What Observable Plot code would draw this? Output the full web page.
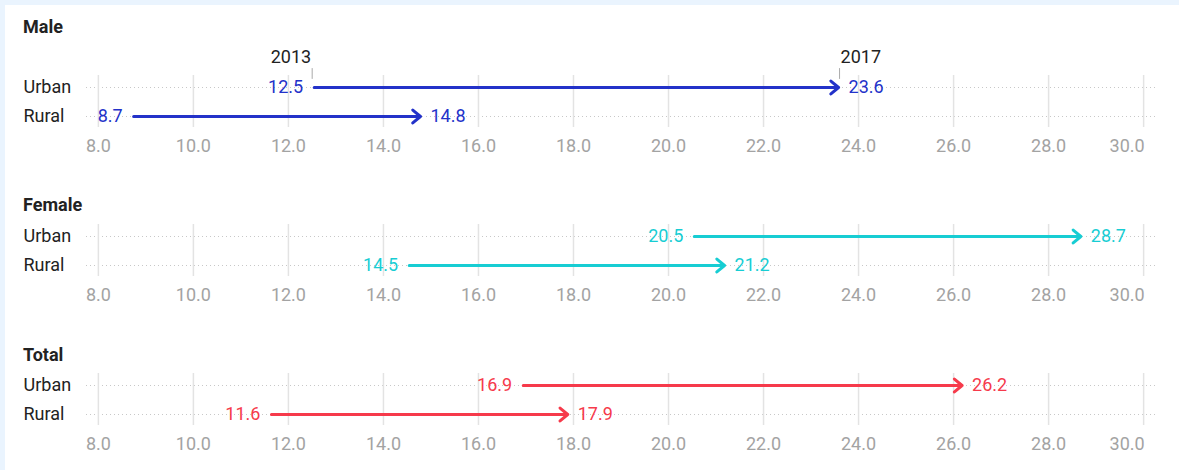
<!DOCTYPE html>
<html>
<head>
<meta charset="utf-8">
<script src="https://cdn.jsdelivr.net/npm/d3@7"></script>
<script src="https://cdn.jsdelivr.net/npm/@observablehq/plot@0.6"></script>
<style>
  html, body { margin: 0; padding: 0; background: #eaf4fe; width: 1179px; height: 470px; overflow: hidden; font-family: Roboto, sans-serif; }
  #card { position: absolute; left: 5px; top: 5px; right: 0; bottom: 0; background: #fff; }
  .title { position: absolute; left: 23px; font-weight: 700; font-size: 18px; line-height: 20px; color: #222; }
  .panel { position: absolute; left: 0; }
</style>
</head>
<body>
<div id="card"></div>
<div id="root"></div>
<script>
const groups = ["Male", "Female", "Total"];
const categories = ["Urban", "Rural"];
const male2013 = [12.5, 8.7];
const male2017 = [23.6, 14.8];
const female2013 = [20.5, 14.5];
const female2017 = [28.7, 21.2];
const total2013 = [16.9, 11.6];
const total2017 = [26.2, 17.9];
const yearLabels = ["2013", "2017"];
const xTicks = [8, 10, 12, 14, 16, 18, 20, 22, 24, 26, 28, 30];
const colors = { Male: "#2332c9", Female: "#17cdd3", Total: "#f63a4b" };

const series = {
  Male: [male2013, male2017],
  Female: [female2013, female2017],
  Total: [total2013, total2017]
};

const titleTops = [17, 195, 345];
const svgTops = [35, 184, 333];

const root = document.getElementById("root");

groups.forEach((g, gi) => {
  const [a, b] = series[g];
  const rows = categories.map((c, i) => ({ row: c, start: a[i], end: b[i] }));
  const color = colors[g];

  const t = document.createElement("div");
  t.className = "title";
  t.style.top = titleTops[gi] + "px";
  t.textContent = g;
  root.appendChild(t);

  const axisOpts = { tickFormat: d => d.toFixed(1), tickSize: 0, tickPadding: 12, color: "#a3a3a3", label: null };

  const marks = [
    Plot.gridY({ stroke: "#c8c8c8", strokeOpacity: 1, strokeDasharray: "1,3", strokeWidth: 1 }),
    Plot.gridX({ ticks: xTicks, stroke: "#e3e3e3", strokeOpacity: 1, strokeWidth: 1.5 }),
    Plot.axisX({ ...axisOpts, ticks: xTicks.slice(0, -1) }),
    Plot.axisX({ ...axisOpts, ticks: xTicks.slice(-1), textAnchor: "end", dx: 1 }),
    Plot.axisY({ tickSize: 0, tickPadding: 0, textAnchor: "start", dx: -63, fill: "#222", label: null }),
    Plot.arrow(rows, {
      x1: "start", x2: "end", y1: "row", y2: "row",
      stroke: color, strokeWidth: 3, headLength: 5, headAngle: 80,
      insetStart: 2, insetEnd: 1, strokeLinecap: "round", strokeLinejoin: "round"
    }),
    Plot.text(rows, { x: "start", y: "row", text: d => d.start.toFixed(1), textAnchor: "end", dx: -9, fill: color }),
    Plot.text(rows, { x: "end", y: "row", text: d => d.end.toFixed(1), textAnchor: "start", dx: 9, fill: color })
  ];

  if (gi === 0) {
    const first = rows[0];
    const ann = [
      { x: first.start, row: first.row, label: yearLabels[0] },
      { x: first.end, row: first.row, label: yearLabels[1] }
    ];
    marks.push(
      Plot.vector(ann, {
        x: "x", y: "row", length: 10, anchor: "start", dy: -9,
        stroke: "#aaaaaa", strokeWidth: 1,
        shape: { draw(context, l) { context.moveTo(0, 0); context.lineTo(0, -l); } }
      }),
      Plot.text([ann[0]], { x: "x", y: "row", text: "label", dy: -30, dx: -1, textAnchor: "end", fill: "#222" }),
      Plot.text([ann[1]], { x: "x", y: "row", text: "label", dy: -30, dx: 1, textAnchor: "start", fill: "#222" })
    );
  }

  const chart = Plot.plot({
    width: 1179,
    height: 132,
    marginLeft: 86,
    marginRight: 24,
    marginTop: 40,
    marginBottom: 40,
    style: { fontSize: "18px", fontFamily: "Roboto, sans-serif", background: "transparent", overflow: "visible" },
    x: { domain: [7.75, 30.25] },
    y: { type: "point", domain: categories, padding: 0.37 },
    marks
  });
  const wrap = document.createElement("div");
  wrap.className = "panel";
  wrap.style.top = svgTops[gi] + "px";
  wrap.appendChild(chart);
  root.appendChild(wrap);
});
</script>
</body>
</html>
